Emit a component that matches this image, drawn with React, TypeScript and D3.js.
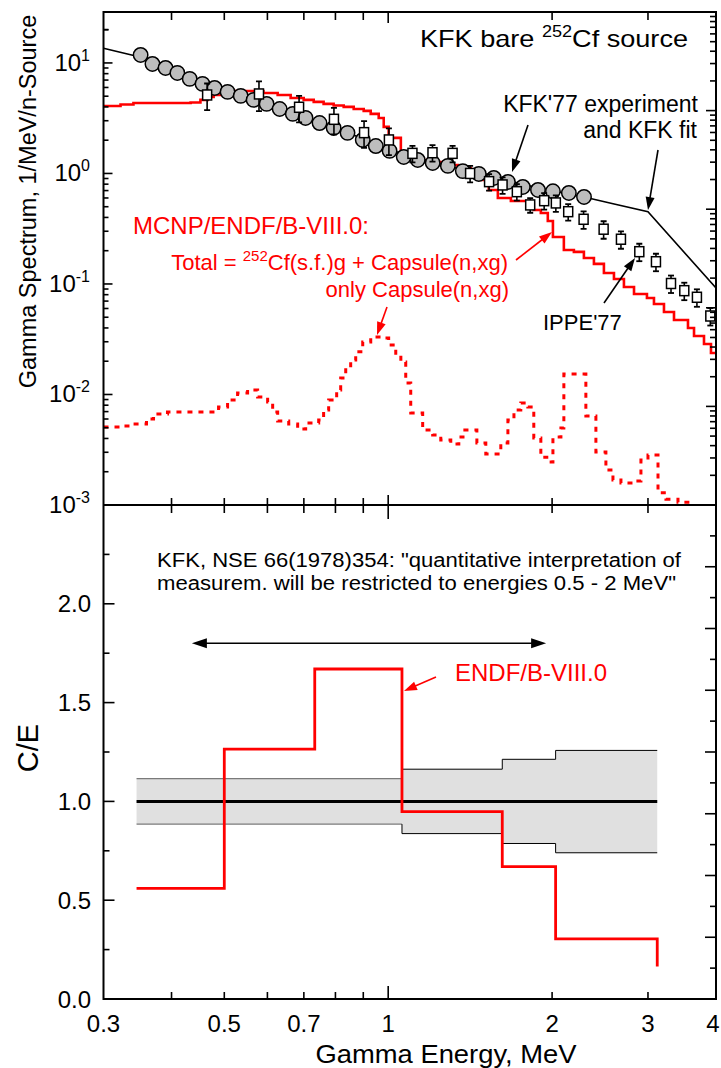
import React from 'react';
import * as d3 from 'd3';

// ---------- DATA ----------
// KFK'77 experiment (circles)
const kfkE = [0.351,0.369,0.390,0.410,0.432,0.456,0.480,0.507,0.536,0.566,0.598,0.632,0.668,0.705,0.748,0.794,0.842,0.898,0.949,1.006,1.068,1.133,1.207,1.287,1.371,1.467,1.563,1.659,1.767,1.884,2.007,2.147,2.289];
const kfkV = [11.8,9.79,9.01,8.12,7.17,6.46,5.94,5.47,5.03,4.63,4.26,3.83,3.46,3.18,2.86,2.58,2.33,2.01,1.77,1.60,1.41,1.325,1.245,1.17,1.05,0.99,0.91,0.838,0.755,0.709,0.69,0.666,0.613];
// KFK fit (line)
const fitE = [0.30,0.35,0.40,0.45,0.50,0.60,0.70,0.80,0.90,1.00,1.20,1.40,1.60,1.80,2.00,2.30,2.60,3.00,4.00];
const fitV = [13.6,11.3,8.7,6.8,5.6,4.2,3.25,2.6,2.05,1.65,1.28,1.05,0.90,0.78,0.70,0.61,0.53,0.45,0.092];
// IPPE'77 (squares with error bars)
const ippeE = [0.465,0.579,0.686,0.795,0.903,1.003,1.108,1.206,1.313,1.414,1.532,1.622,1.723,1.823,1.934,2.032,2.141,2.285,2.487,2.676,2.892,3.103,3.307,3.498,3.690,3.905];
const ippeV = [5.13,5.24,3.97,3.09,2.34,2.01,1.52,1.54,1.52,1.00,0.843,0.787,0.684,0.519,0.567,0.541,0.451,0.385,0.313,0.254,0.196,0.159,0.101,0.087,0.0758,0.0513];
const ippeErr = [0.27,0.30,0.27,0.27,0.27,0.27,0.17,0.17,0.17,0.17,0.17,0.17,0.17,0.15,0.17,0.17,0.17,0.18,0.18,0.18,0.18,0.18,0.18,0.18,0.18,0.18];
// MCNP Total (step histogram, left bin edges)
const totalE = [0.300,0.3224,0.3405,0.4336,0.452,0.466,0.478,0.4985,0.520,0.590,0.6266,0.662,0.6995,0.7298,0.761,0.794,0.8285,0.8643,0.9016,0.9288,0.9607,0.9813,1.002,1.055,1.128,1.2125,1.287,1.342,1.418,1.443,1.479,1.511,1.530,1.590,1.680,1.805,1.851,1.907,1.964,2.007,2.102,2.193,2.288,2.387,2.490,2.598,2.710,2.828,2.987,3.077,3.210,3.349,3.553,3.645,3.802,3.916];
const totalV = [4.08,4.21,4.345,4.39,4.63,4.92,5.13,5.30,5.58,5.35,5.13,4.82,4.63,4.44,4.26,4.12,4.00,3.83,3.68,3.46,3.18,2.64,2.10,1.50,1.325,1.27,1.19,1.12,1.03,0.93,0.873,0.787,0.709,0.600,0.564,0.530,0.467,0.439,0.3716,0.266,0.203,0.195,0.172,0.152,0.1257,0.111,0.094,0.0812,0.0747,0.0659,0.0558,0.0472,0.040,0.0338,0.0286,0.0237];
const totalEnd = 4.0;
// MCNP only Capsule (dotted step histogram)
const capsE = [0.300,0.3224,0.3405,0.3598,0.3707,0.3932,0.488,0.507,0.5289,0.5518,0.5757,0.6006,0.6135,0.6266,0.6566,0.6819,0.7054,0.7453,0.761,0.7774,0.8042,0.818,0.8356,0.8533,0.8716,0.8979,0.9288,0.969,1.002,1.0325,1.055,1.077,1.100,1.157,1.207,1.249,1.303,1.348,1.383,1.455,1.511,1.610,1.659,1.702,1.752,1.805,1.851,1.907,1.973,2.007,2.076,2.102,2.307,2.407,2.511,2.587,2.676,2.792,2.912,3.000,3.130,3.237,3.406];
const capsV = [0.00508,0.00519,0.0054,0.0060,0.00667,0.00695,0.00771,0.0089,0.01032,0.0110,0.00949,0.00855,0.00695,0.00575,0.0054,0.00488,0.00552,0.00587,0.00724,0.0089,0.0110,0.0141,0.0174,0.0205,0.0243,0.0299,0.0331,0.0324,0.0281,0.0228,0.0197,0.0127,0.00681,0.00477,0.0043,0.00387,0.00356,0.00412,0.00477,0.00364,0.0029,0.00364,0.00587,0.00724,0.00838,0.00771,0.00404,0.0027,0.00245,0.00412,0.00498,0.01534,0.00639,0.00302,0.00207,0.00168,0.00158,0.00165,0.00255,0.00283,0.00129,0.00113,0.00106];
const capsEnd = 3.598;
// C/E panel
const ceEdges = [0.345,0.5,0.733,1.06,1.62,2.03,3.12];
const ceValues = [0.56,1.265,1.67,0.948,0.67,0.304];
const ceEndValue = 0.165;
const bandEdges = [0.345,1.06,1.62,2.03,3.12];
const bandLow = [0.885,0.837,0.787,0.74];
const bandHigh = [1.115,1.163,1.213,1.258];
const rangeArrowE = [0.436,1.95];
const rangeArrowCE = 1.80;
// Axis ticks
const xTickLabels = [0.3,0.5,0.7,1,2,3,4];
const xMinorTicks = [0.4,0.5,0.6,0.7,0.8,0.9,2,3];
const xMajorTicks = [1];
const topExps = [1,0,-1,-2,-3];
const ceTicks = [0,0.5,1,1.5,2];

// ---------- LAYOUT ----------
const W = 721, H = 1068;
const L = 103.5, R = 716, T = 12, M = 505, B = 999;
const FONT = "'Liberation Sans', Arial, Helvetica, sans-serif";
const RED = '#ff0000';

const x = d3.scaleLog().domain([0.3, 4]).range([L, R]);
const yTop = d3.scaleLog().domain([1e-3, 28.9]).range([M, T]);
const yRight = d3.scaleLog().domain([1, 1e5]).range([M, T]);
const yBot = d3.scaleLinear().domain([0, 2.5]).range([B, M]);
const yBotR = d3.scaleLinear().domain([0, 8]).range([B, M]);

type P = [number, number];

function arrow(x1: number, y1: number, x2: number, y2: number, color: string, len = 13, hw = 4.5) {
  const dx = x2 - x1, dy = y2 - y1, l = Math.hypot(dx, dy);
  const ux = dx / l, uy = dy / l;
  const bx = x2 - ux * len, by = y2 - uy * len;
  return (
    <g>
      <line x1={x1} y1={y1} x2={bx + ux * 2} y2={by + uy * 2} stroke={color} strokeWidth={1.6} />
      <polygon points={`${x2},${y2} ${bx - uy * hw},${by + ux * hw} ${bx + uy * hw},${by - ux * hw}`} fill={color} />
    </g>
  );
}

export default function App() {
  const stepTop = d3.line<P>().x(d => x(d[0])).y(d => yTop(d[1])).curve(d3.curveStepAfter);
  const lin = d3.line<P>().x(d => x(d[0])).y(d => yTop(d[1]));
  const stepBot = d3.line<P>().x(d => x(d[0])).y(d => yBot(d[1])).curve(d3.curveStepAfter);

  const totalPts: P[] = totalE.map((e, i) => [e, totalV[i]] as P).concat([[totalEnd, totalV[totalV.length - 1]]]);
  const capsPts: P[] = capsE.map((e, i) => [e, capsV[i]] as P).concat([[capsEnd, capsV[capsV.length - 1]]]);
  const fitPts: P[] = fitE.map((e, i) => [e, fitV[i]] as P);

  const cePts: P[] = ceValues.map((v, i) => [ceEdges[i], v] as P);
  cePts.push([ceEdges[ceEdges.length - 1], ceValues[ceValues.length - 1]]);
  cePts.push([ceEdges[ceEdges.length - 1], ceEndValue]);

  const bandData = bandLow.map((lo, i) => ({ e: bandEdges[i], lo, hi: bandHigh[i] }));
  bandData.push({ e: bandEdges[bandEdges.length - 1], lo: bandLow[bandLow.length - 1], hi: bandHigh[bandHigh.length - 1] });
  const bandArea = d3.area<{ e: number; lo: number; hi: number }>()
    .x(d => x(d.e)).y0(d => yBot(d.lo)).y1(d => yBot(d.hi)).curve(d3.curveStepAfter);

  // band edges: first bin outlined in grey, the rest in black
  const hiLeft: P[] = [[bandEdges[0], bandHigh[0]], [bandEdges[1], bandHigh[0]]];
  const loLeft: P[] = [[bandEdges[0], bandLow[0]], [bandEdges[1], bandLow[0]]];
  const hiRight: P[] = [[bandEdges[1], bandHigh[0]] as P, ...bandData.slice(1).map(d => [d.e, d.hi] as P)];
  const loRight: P[] = [[bandEdges[1], bandLow[0]] as P, ...bandData.slice(1).map(d => [d.e, d.lo] as P)];

  // ticks
  const ticks: JSX.Element[] = [];
  let k = 0;
  const tk = (x1: number, y1: number, x2: number, y2: number) =>
    ticks.push(<line key={'t' + k++} x1={x1} y1={y1} x2={x2} y2={y2} stroke="#000" strokeWidth={1.6} />);

  xMinorTicks.forEach(v => {
    const px = x(v);
    tk(px, T, px, T + 8);
    tk(px, M, px, M - 7);
    tk(px, M, px, M + 8);
    tk(px, B, px, B - 7);
  });
  xMajorTicks.forEach(v => {
    const px = x(v);
    tk(px, T, px, T + 11);
    tk(px, M, px, M - 10);
    tk(px, M, px, M + 14);
    tk(px, B, px, B - 13);
  });
  for (let e = -3; e <= 1; e++) {
    for (let m = 1; m <= 9; m++) {
      const v = m * Math.pow(10, e);
      if (v > 28.9) continue;
      const py = yTop(v);
      tk(L, py, L + (m === 1 ? 9 : 5), py);
    }
  }
  tk(L, yTop(20), L + 5, yTop(20));
  for (let e = 0; e <= 5; e++) {
    for (let m = 1; m <= 9; m++) {
      const v = m * Math.pow(10, e);
      if (v > 1e5) continue;
      const py = yRight(v);
      tk(R, py, R - (m === 1 ? 10 : 6), py);
    }
  }
  for (let v = 0; v <= 2.5001; v += 0.25) {
    const py = yBot(v);
    const major = Math.abs(v * 2 - Math.round(v * 2)) < 1e-6;
    tk(L, py, L + (major ? 11 : 6), py);
  }
  for (let v = 0; v <= 8.0001; v += 0.5) {
    const py = yBotR(v);
    const major = Math.abs(v - Math.round(v)) < 1e-6;
    tk(R, py, R - (major ? 11 : 6), py);
  }

  return (
    <svg width={W} height={H} style={{ position: 'absolute', left: 0, top: 0, background: '#fff' }} fontFamily={FONT}>
      <defs>
        <clipPath id="clipTop"><rect x={L} y={T} width={R - L} height={M - T} /></clipPath>
        <clipPath id="clipBot"><rect x={L} y={M} width={R - L} height={B - M} /></clipPath>
      </defs>
      <rect x={0} y={0} width={W} height={H} fill="#fff" />

      {/* ---------- TOP PANEL ---------- */}
      <g clipPath="url(#clipTop)">
        <path d={stepTop(capsPts) || ''} fill="none" stroke={RED} strokeWidth={3} strokeDasharray="5,6" />
        <path d={stepTop(totalPts) || ''} fill="none" stroke={RED} strokeWidth={2.6} />
        <path d={lin(fitPts) || ''} fill="none" stroke="#000" strokeWidth={1.6} />
        {kfkE.map((e, i) => (
          <circle key={'c' + i} cx={x(e)} cy={yTop(kfkV[i])} r={7.2} fill="#bdbdbd" stroke="#000" strokeWidth={1.5} />
        ))}
        {ippeE.map((e, i) => {
          const cx = x(e), v = ippeV[i], er = ippeErr[i];
          const y0 = yTop(v * (1 + er)), y1 = yTop(v * (1 - er));
          return (
            <g key={'s' + i}>
              <line x1={cx} y1={y0} x2={cx} y2={y1} stroke="#000" strokeWidth={1.6} />
              <line x1={cx - 3} y1={y0} x2={cx + 3} y2={y0} stroke="#000" strokeWidth={1.8} />
              <line x1={cx - 3} y1={y1} x2={cx + 3} y2={y1} stroke="#000" strokeWidth={1.8} />
              <rect x={cx - 4.5} y={yTop(v) - 5} width={9} height={10} fill="#fff" stroke="#000" strokeWidth={1.5} />
            </g>
          );
        })}
      </g>

      {/* ---------- BOTTOM PANEL ---------- */}
      <g clipPath="url(#clipBot)">
        <path d={bandArea(bandData) || ''} fill="#e0e0e0" stroke="none" />
        <path d={stepBot(hiLeft) || ''} fill="none" stroke="#7a7a7a" strokeWidth={1.2} />
        <path d={stepBot(loLeft) || ''} fill="none" stroke="#7a7a7a" strokeWidth={1.2} />
        <path d={stepBot(hiRight) || ''} fill="none" stroke="#000" strokeWidth={1} />
        <path d={stepBot(loRight) || ''} fill="none" stroke="#000" strokeWidth={1} />
        <line x1={x(bandEdges[0])} x2={x(bandEdges[bandEdges.length - 1])} y1={yBot(1)} y2={yBot(1)} stroke="#000" strokeWidth={3} />
        <path d={stepBot(cePts) || ''} fill="none" stroke={RED} strokeWidth={2.8} />
      </g>

      {(() => {
        const x1 = x(rangeArrowE[0]), x2 = x(rangeArrowE[1]), yy = yBot(rangeArrowCE);
        const len = 15, hw = 5;
        return (
          <g>
            <line x1={x1 + len - 2} y1={yy} x2={x2 - len + 2} y2={yy} stroke="#000" strokeWidth={1.6} />
            <polygon points={`${x1},${yy} ${x1 + len},${yy - hw} ${x1 + len},${yy + hw}`} fill="#000" />
            <polygon points={`${x2},${yy} ${x2 - len},${yy - hw} ${x2 - len},${yy + hw}`} fill="#000" />
          </g>
        );
      })()}

      {/* frames */}
      <rect x={L} y={T} width={R - L} height={B - T} fill="none" stroke="#000" strokeWidth={2} />
      <line x1={L} x2={R} y1={M} y2={M} stroke="#000" strokeWidth={2} />
      {ticks}

      {/* ---------- ANNOTATIONS TOP ---------- */}
      <text x={420} y={47} fontSize={24} textLength={268} lengthAdjust="spacingAndGlyphs">
        KFK bare <tspan fontSize={16} dy={-10}>252</tspan><tspan dy={10}>Cf source</tspan>
      </text>
      <text x={698} y={112} fontSize={23} textAnchor="end">KFK'77 experiment</text>
      <text x={697} y={138} fontSize={23} textAnchor="end">and KFK fit</text>
      {arrow(528, 125, 512, 172, '#000')}
      {arrow(658, 150, 648, 210, '#000')}

      <text x={133} y={234} fontSize={24} fill={RED}>MCNP/ENDF/B-VIII.0:</text>
      <text x={508} y={270} fontSize={22} fill={RED} textAnchor="end">
        Total = <tspan fontSize={15} dy={-9}>252</tspan><tspan dy={9}>Cf(s.f.)g + Capsule(n,xg)</tspan>
      </text>
      <text x={509} y={297} fontSize={22} fill={RED} textAnchor="end">only Capsule(n,xg)</text>
      {arrow(516, 260, 552, 232, RED)}
      {arrow(387, 307, 377, 335, RED)}

      <text x={543} y={330} fontSize={22}>IPPE'77</text>
      {arrow(604, 303, 635, 258, '#000')}

      {/* ---------- ANNOTATIONS BOTTOM ---------- */}
      <text x={157} y={567} fontSize={20} textLength={524} lengthAdjust="spacingAndGlyphs">KFK, NSE 66(1978)354: "quantitative interpretation of</text>
      <text x={157} y={590} fontSize={20} textLength={519} lengthAdjust="spacingAndGlyphs">measurem. will be restricted to energies 0.5 - 2 MeV"</text>
      <text x={455} y={681} fontSize={24} fill={RED}>ENDF/B-VIII.0</text>
      {arrow(436, 677, 404, 691, RED)}

      {/* ---------- AXIS LABELS ---------- */}
      {topExps.map(e => (
        <text key={'ye' + e} x={90} y={yTop(Math.pow(10, e)) + 8} fontSize={24} textAnchor="end">
          10<tspan fontSize={16} dy={-10}>{e}</tspan>
        </text>
      ))}
      {ceTicks.map(v => (
        <text key={'yc' + v} x={91} y={yBot(v) + 8.5} fontSize={24} textAnchor="end">{v.toFixed(1)}</text>
      ))}
      {xTickLabels.map(v => (
        <text key={'xl' + v} x={Math.min(x(v), 713)} y={1032} fontSize={24} textAnchor="middle">{String(v)}</text>
      ))}
      <text x={446} y={1063} fontSize={25} textAnchor="middle" textLength={261} lengthAdjust="spacingAndGlyphs">Gamma Energy, MeV</text>
      <text transform={`translate(36,${(T + 383) / 2 + 4}) rotate(-90)`} fontSize={23.5} textAnchor="middle">Gamma Spectrum, 1/MeV/n-Source</text>
      <text transform={`translate(38,${yBot(1.27)}) rotate(-90)`} fontSize={29} textAnchor="middle">C/E</text>
    </svg>
  );
}
